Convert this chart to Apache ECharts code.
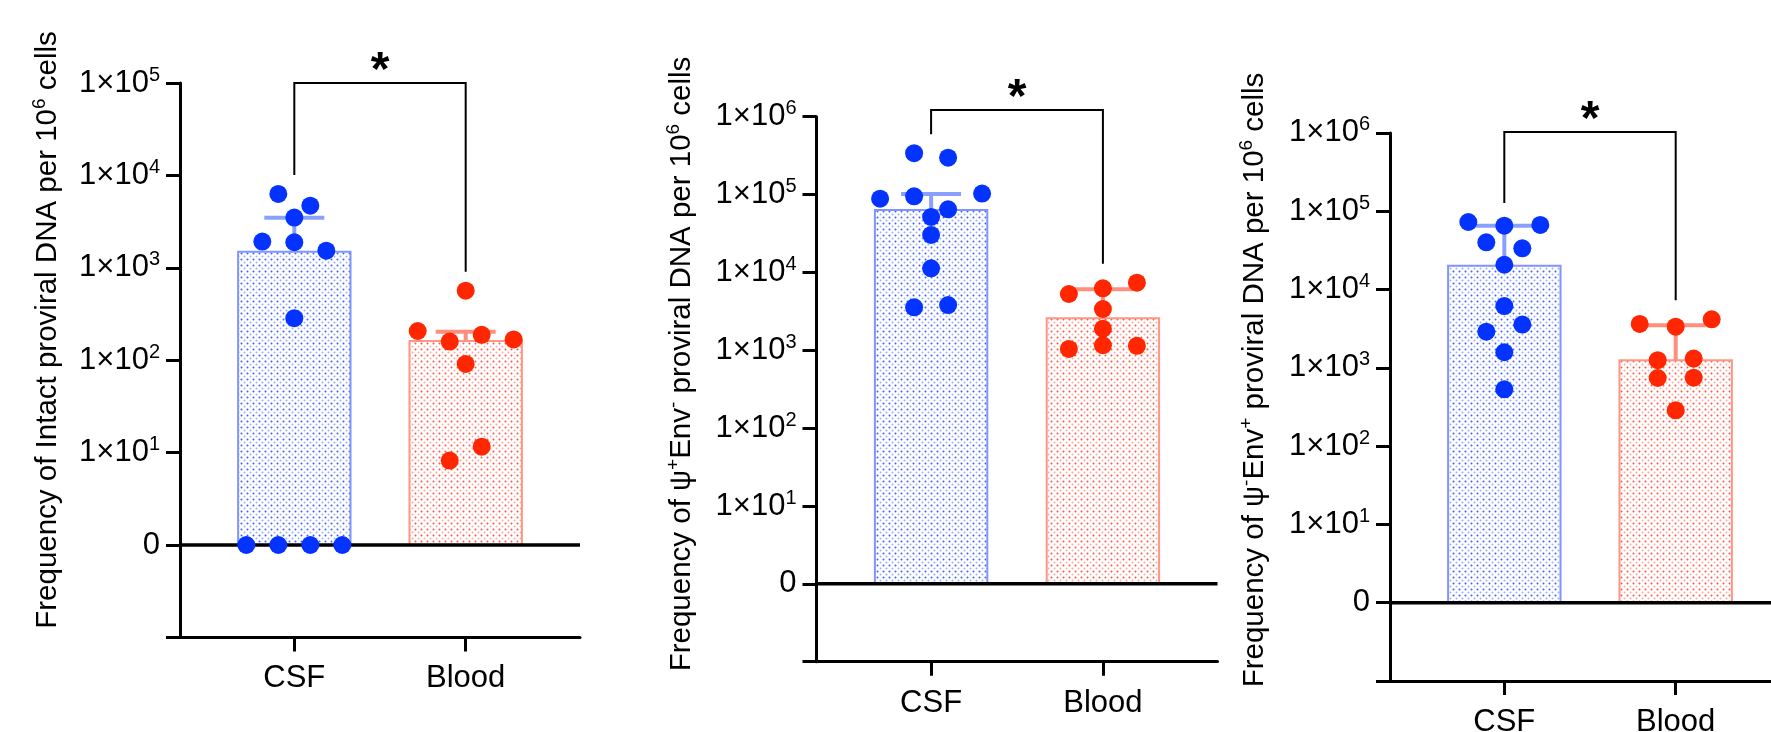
<!DOCTYPE html>
<html><head><meta charset="utf-8">
<script src="https://cdn.jsdelivr.net/npm/echarts@6/dist/echarts.min.js"></script>
<style>html,body{margin:0;padding:0;background:#fff}#c{width:1771px;height:732px}</style>
</head><body><div id="c"></div>
<script>
// ---------------- data ----------------
const categories = ['CSF', 'Blood'];
// Panel 1: Intact proviral DNA
const intactCSF   = [6300, 4700, 3500, 1920, 1890, 1530, 285, 0, 0, 0, 0];
const intactBlood = [565, 207, 159, 188, 168, 91, 8.2, 11.6];
const intactMean  = [1490, 161];
const intactUpper = [3490, 203];
// Panel 2: psi+ Env- proviral DNA
const psiPosCSF   = [340000, 298000, 88500, 95000, 64700, 103000, 51500, 30300, 11300, 3560, 3810];
const psiPosBlood = [5280, 6250, 7380, 3390, 1890, 1040, 1160, 1140];
const psiPosMean  = [63400, 2570];
const psiPosUpper = [102000, 6070];
// Panel 3: psi- Env+ proviral DNA
const envPosCSF   = [72800, 65300, 66700, 40100, 33600, 20700, 6150, 2890, 3560, 1580, 531];
const envPosBlood = [3630, 3350, 4160, 1250, 1310, 741, 748, 286];
const envPosMean  = [20100, 1250];
const envPosUpper = [65300, 3490];
// axis top exponent, bracket height, significance mark
const yMaxExp = [5, 6, 6];
const bracketTop = [1e5, 1.22e6, 1.03e6];
const significance = ['*', '*', '*'];
const yTitles = [
  '{t|Frequency of Intact proviral DNA per 10}{s|6}{t| cells}',
  '{t|Frequency of \u03C8}{s|+}{t|Env}{s|-}{t| proviral DNA per 10}{s|6}{t| cells}',
  '{t|Frequency of \u03C8}{s|-}{t|Env}{s|+}{t| proviral DNA per 10}{s|6}{t| cells}'
];

const panels = [
  {csf: intactCSF, blood: intactBlood, mean: intactMean, upper: intactUpper},
  {csf: psiPosCSF, blood: psiPosBlood, mean: psiPosMean, upper: psiPosUpper},
  {csf: envPosCSF, blood: envPosBlood, mean: envPosMean, upper: envPosUpper}
];

// ---------------- layout & style ----------------
const FONT = "'Liberation Sans', Arial, Helvetica, sans-serif";
const grids = [
  {left: 180,   top: 83,    width: 400, height: 554.4},
  {left: 816.5, top: 116.7, width: 401, height: 545},
  {left: 1390,  top: 132.9, width: 400, height: 548.1}
];
const titlePos = [[48, 330], [682, 364], [1255, 380]];
const dotSpacing = [32, 34, 36];
const DOT = 18;
const BAR_W = 112.4;
const CAP_W = 60;
const BRACKET_GAP = 19;
const dotColor = ['#0433FF', '#FF2600'];
const edgeColor = ['#8094FF', '#FF9585'];
const errColor = ['#8AA0FF', '#FF8E7E'];

function makePattern(strong, weak) {
  const c = document.createElement('canvas');
  c.width = 6; c.height = 6;
  const g = c.getContext('2d');
  g.fillStyle = '#ffffff'; g.fillRect(0, 0, 6, 6);
  g.fillStyle = strong; g.beginPath(); g.arc(1.5, 1.5, 1.0, 0, Math.PI * 2); g.fill();
  g.fillStyle = weak; g.beginPath(); g.arc(4.5, 4.5, 1.0, 0, Math.PI * 2); g.fill();
  return {image: c, repeat: 'repeat'};
}
const patterns = [
  makePattern('rgba(40,75,255,0.9)', 'rgba(90,120,255,0.6)'),
  makePattern('rgba(255,60,40,0.9)', 'rgba(255,110,90,0.6)')
];

const tf = v => (v > 0 ? Math.log10(v) : 0);

const yLabelRich = {
  b: {fontSize: 31, lineHeight: 36, fontFamily: FONT, color: '#000'},
  s: {fontSize: 20, lineHeight: 20, verticalAlign: 'top', fontFamily: FONT, color: '#000'}
};
const titleRich = {
  t: {fontSize: 29.5, lineHeight: 36, fontFamily: FONT, fill: '#000', color: '#000'},
  s: {fontSize: 19, lineHeight: 22, verticalAlign: 'top', fontFamily: FONT, fill: '#000', color: '#000'}
};

const xAxes = [], yAxes = [], series = [];
panels.forEach((p, i) => {
  xAxes.push({
    gridIndex: i, type: 'value', min: -0.667, max: 1.667,
    axisLine: {show: true, onZero: false, lineStyle: {color: '#000', width: 3}},
    axisTick: {show: true, customValues: [0, 1], length: 14, lineStyle: {color: '#000', width: 3}},
    axisLabel: {show: true, customValues: [0, 1], formatter: v => categories[Math.round(v)],
      fontSize: 31, fontFamily: FONT, color: '#000', margin: 26},
    splitLine: {show: false}
  });
  yAxes.push({
    gridIndex: i, type: 'value', min: -1, max: yMaxExp[i], interval: 1,
    axisLine: {show: true, onZero: false, lineStyle: {color: '#000', width: 3}},
    axisTick: {show: true, length: 14, lineStyle: {color: '#000', width: 3}},
    axisLabel: {show: true, margin: 20, rich: yLabelRich,
      formatter: v => (v >= 1 ? '{b|1\u00D710}{s|' + v + '}' : (v === 0 ? '{b|0}' : ''))},
    splitLine: {show: false}
  });
  // bars
  series.push({
    type: 'custom', xAxisIndex: i, yAxisIndex: i, z: 1, silent: true,
    data: p.mean.map((m, k) => [k, tf(m)]),
    renderItem: (params, api) => {
      const k = api.value(0);
      const top = api.coord([k, api.value(1)]);
      const base = api.coord([k, 0]);
      return {type: 'rect',
        shape: {x: top[0] - BAR_W / 2, y: top[1], width: BAR_W, height: base[1] - top[1]},
        style: {fill: patterns[k], stroke: edgeColor[k], lineWidth: 2}};
    }
  });
  // zero line
  series.push({
    type: 'custom', xAxisIndex: i, yAxisIndex: i, z: 2, silent: true,
    data: [[0, 0]],
    renderItem: (params, api) => {
      const cs = params.coordSys;
      const y = api.coord([0, 0])[1];
      return {type: 'line', shape: {x1: cs.x, y1: y, x2: cs.x + cs.width, y2: y},
        style: {stroke: '#000', lineWidth: 3.5}};
    }
  });
  // error bars (mean -> mean + SEM)
  series.push({
    type: 'custom', xAxisIndex: i, yAxisIndex: i, z: 3, silent: true,
    data: p.mean.map((m, k) => [k, tf(m), tf(p.upper[k])]),
    renderItem: (params, api) => {
      const k = api.value(0);
      const m = api.coord([k, api.value(1)]);
      const u = api.coord([k, api.value(2)]);
      const st = {stroke: errColor[k], lineWidth: 4};
      return {type: 'group', children: [
        {type: 'line', shape: {x1: m[0], y1: m[1], x2: u[0], y2: u[1]}, style: st},
        {type: 'line', shape: {x1: u[0] - CAP_W / 2, y1: u[1], x2: u[0] + CAP_W / 2, y2: u[1]}, style: st}
      ]};
    }
  });
  // dots (filled later)
  [0, 1].forEach(k => series.push({
    id: 'dots' + i + '_' + k, type: 'scatter', xAxisIndex: i, yAxisIndex: i, z: 5, silent: true,
    symbol: 'circle', symbolSize: DOT, itemStyle: {color: dotColor[k], opacity: 1}, data: []
  }));
  // significance bracket
  series.push({
    type: 'custom', xAxisIndex: i, yAxisIndex: i, z: 4, silent: true,
    data: [[tf(bracketTop[i]), tf(Math.max(...p.csf)), tf(Math.max(...p.blood))]],
    renderItem: (params, api) => {
      const l = api.coord([0, api.value(0)]);
      const r = api.coord([1, api.value(0)]);
      const lb = api.coord([0, api.value(1)])[1] - BRACKET_GAP;
      const rb = api.coord([1, api.value(2)])[1] - BRACKET_GAP;
      return {type: 'group', children: [
        {type: 'polyline', shape: {points: [[l[0], lb], [l[0], l[1]], [r[0], r[1]], [r[0], rb]]},
          style: {stroke: '#000', lineWidth: 2, fill: null}},
        {type: 'text', x: (l[0] + r[0]) / 2, y: l[1] - 11,
          style: {text: significance[i], font: 'bold 48px ' + FONT, fill: '#000',
            align: 'center', verticalAlign: 'middle', textAlign: 'center', textVerticalAlign: 'middle'}}
      ]};
    }
  });
});

const chart = echarts.init(document.getElementById('c'));
chart.setOption({
  animation: false,
  backgroundColor: '#fff',
  grid: grids.map(g => Object.assign({containLabel: false, outerBoundsMode: 'none'}, g)),
  xAxis: xAxes, yAxis: yAxes, series: series,
  graphic: yTitles.map((t, i) => ({
    type: 'text', x: titlePos[i][0], y: titlePos[i][1], rotation: Math.PI / 2, silent: true,
    style: {text: t, rich: titleRich, font: '29.5px ' + FONT, fill: '#000',
      align: 'center', verticalAlign: 'middle', textAlign: 'center', textVerticalAlign: 'middle'}
  }))
});

// beeswarm-like row layout: points closer than ROW_H px vertically share a row,
// each row is spread symmetrically around the category centre
const ROW_H = 16;
const upd = [];
panels.forEach((p, i) => {
  const finder = {gridIndex: i};
  const p0 = chart.convertToPixel(finder, [0, 0]);
  const p1 = chart.convertToPixel(finder, [1, 0]);
  const pxPerUnit = p1[0] - p0[0];
  [p.csf, p.blood].forEach((vals, k) => {
    const pts = vals.map((v, idx) => ({idx, v, py: chart.convertToPixel(finder, [k, tf(v)])[1]}));
    const sorted = pts.slice().sort((a, b) => a.py - b.py || a.idx - b.idx);
    const off = new Array(vals.length).fill(0);
    let s = 0;
    while (s < sorted.length) {
      let e = s + 1;
      while (e < sorted.length && sorted[e].py - sorted[s].py < ROW_H) e++;
      const row = sorted.slice(s, e).sort((a, b) => a.idx - b.idx);
      row.forEach((pt, j) => { off[pt.idx] = (j - (row.length - 1) / 2) * dotSpacing[i]; });
      s = e;
    }
    upd.push({id: 'dots' + i + '_' + k,
      data: vals.map((v, idx) => [k + off[idx] / pxPerUnit, tf(v)])});
  });
});
chart.setOption({series: upd});
</script>
</body></html>
